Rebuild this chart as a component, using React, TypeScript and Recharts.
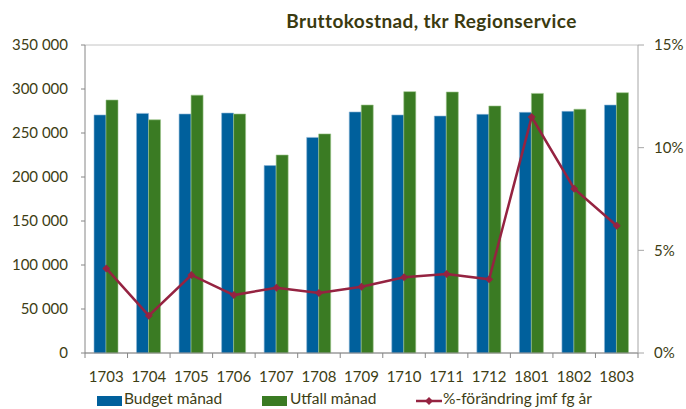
import { ComposedChart, Bar, Line, XAxis, YAxis, CartesianGrid, Legend } from 'recharts';

const months = ['1703', '1704', '1705', '1706', '1707', '1708', '1709', '1710', '1711', '1712', '1801', '1802', '1803'];
const budget = [270500, 272300, 271600, 272700, 213000, 245000, 273900, 270500, 269300, 271200, 273500, 274600, 281800];
const utfall = [287500, 265000, 293000, 271600, 225000, 249000, 281800, 297000, 296600, 280700, 295000, 277000, 295800];
const change = [0.0412, 0.0182, 0.038, 0.0282, 0.0318, 0.0292, 0.0323, 0.0369, 0.0385, 0.0359, 0.1149, 0.08, 0.062];

const leftTicks = [0, 50000, 100000, 150000, 200000, 250000, 300000, 350000];
const rightTicks = [0, 0.05, 0.1, 0.15];

const data = months.map((m, i) => ({ month: m, budget: budget[i], utfall: utfall[i], change: change[i] }));

const FONT = 'Lato, "Open Sans", sans-serif';
const TEXT = '#3d3d14';
const BLUE = '#00609c';
const GREEN = '#3a7b23';
const RED = '#952341';

const fmtThousands = (v: number) => (v === 0 ? '0' : `${Math.floor(v / 1000)} 000`);

function MonthTick(props: any) {
  const { x, y, payload, index, visibleTicksCount } = props;
  const half = payload.offset || 0;
  const axisY = y - 7;
  return (
    <g>
      <line x1={x - half} x2={x - half} y1={axisY} y2={axisY + 5} stroke="#868686" />
      {index === visibleTicksCount - 1 && (
        <line x1={x + half} x2={x + half} y1={axisY} y2={axisY + 5} stroke="#868686" />
      )}
      <text x={x} y={y + 22} textAnchor="middle" fill={TEXT} fontSize={15} fontFamily={FONT}>
        {payload.value}
      </text>
    </g>
  );
}

function Diamond(props: any) {
  const { cx, cy } = props;
  if (cx == null || cy == null) return null;
  return <polygon points={`${cx},${cy - 4} ${cx + 4},${cy} ${cx},${cy + 4} ${cx - 4},${cy}`} fill={RED} />;
}

function LegendContent() {
  const label = { position: 'absolute' as const, top: 1, fontSize: 15.5, fontFamily: FONT, color: TEXT, lineHeight: '20px', whiteSpace: 'nowrap' as const };
  return (
    <div style={{ position: 'relative', height: 22, width: 686 }}>
      <div style={{ position: 'absolute', left: 97, top: 9, width: 25, height: 10, background: BLUE }} />
      <span style={{ ...label, left: 124 }}>Budget månad</span>
      <div style={{ position: 'absolute', left: 262, top: 9, width: 25, height: 10, background: GREEN }} />
      <span style={{ ...label, left: 290 }}>Utfall månad</span>
      <svg style={{ position: 'absolute', left: 416, top: 8 }} width={26} height={12}>
        <line x1={0} x2={26} y1={6} y2={6} stroke={RED} strokeWidth={2.5} />
        <polygon points="13,2 17,6 13,10 9,6" fill={RED} />
      </svg>
      <span style={{ ...label, left: 443 }}>%-förändring jmf fg år</span>
    </div>
  );
}

export default function App() {
  return (
    <div style={{ position: 'absolute', left: 0, top: 0, width: 686, height: 409, background: '#fff' }}>
      <style>{'body{margin:0}'}</style>
      <div
        style={{
          position: 'absolute',
          left: 0,
          width: 686,
          top: 9,
          textAlign: 'center',
          paddingLeft: 177,
          boxSizing: 'border-box',
          fontFamily: FONT,
          fontWeight: 700,
          fontSize: 19,
          letterSpacing: 0.4,
          lineHeight: '23px',
          color: '#3a3a10',
        }}
      >
        Bruttokostnad, tkr Regionservice
      </div>
      <ComposedChart
        width={686}
        height={409}
        data={data}
        margin={{ top: 45, right: 0, left: 0, bottom: 0 }}
        barGap={0}
      >
        <CartesianGrid vertical={false} stroke="#c4c4c4" />
        <XAxis
          dataKey="month"
          height={34}
          axisLine={{ stroke: '#868686' }}
          tickLine={false}
          tickSize={5}
          tickMargin={2}
          interval={0}
          tick={<MonthTick />}
        />
        <YAxis
          yAxisId="left"
          width={85}
          domain={[0, 350000]}
          ticks={leftTicks}
          tickFormatter={fmtThousands}
          axisLine={{ stroke: '#868686' }}
          tickLine={{ stroke: '#868686' }}
          tickSize={4}
          tickMargin={13}
          tick={{ fill: TEXT, fontSize: 15, fontFamily: FONT }}
          interval={0}
        />
        <YAxis
          yAxisId="right"
          orientation="right"
          width={48}
          domain={[0, 0.15]}
          ticks={rightTicks}
          tickFormatter={(v: number) => `${Math.round(v * 100)}%`}
          axisLine={{ stroke: '#a6a6a6' }}
          tickLine={{ stroke: '#a6a6a6' }}
          tickSize={6}
          tickMargin={10}
          tick={{ fill: TEXT, fontSize: 15, fontFamily: FONT }}
          interval={0}
        />
        <Bar yAxisId="left" dataKey="budget" fill={BLUE} stroke="#8db6d6" strokeWidth={0.6} barSize={12} isAnimationActive={false} />
        <Bar yAxisId="left" dataKey="utfall" fill={GREEN} stroke="#9cc58a" strokeWidth={0.6} barSize={12} isAnimationActive={false} />
        <Line
          yAxisId="right"
          dataKey="change"
          stroke={RED}
          strokeWidth={2.5}
          dot={<Diamond />}
          activeDot={false}
          isAnimationActive={false}
        />
        <Legend verticalAlign="bottom" align="left" height={22} wrapperStyle={{ height: 22 }} content={<LegendContent />} />
      </ComposedChart>
    </div>
  );
}
